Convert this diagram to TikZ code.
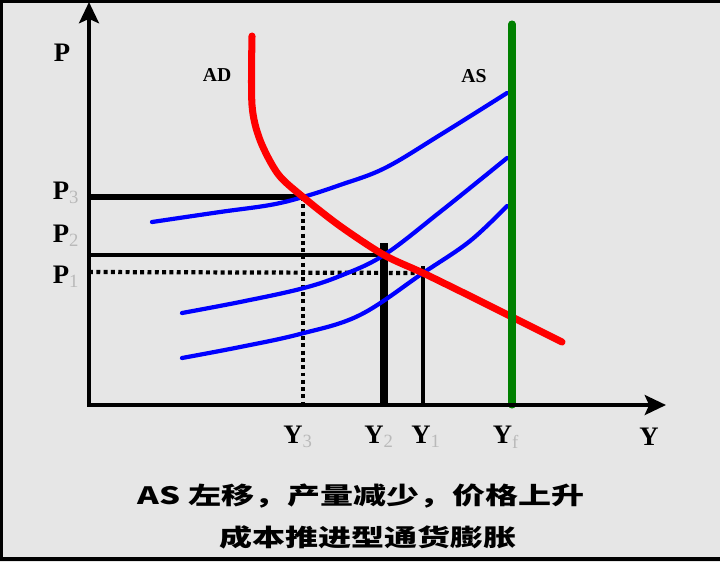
\documentclass[tikz,border=0pt]{standalone}
\usepackage{fontspec}
\setmainfont{Liberation Serif}
\newfontfamily\cjk{Noto Sans CJK SC}
\usepackage{tikz}
\usetikzlibrary{arrows.meta}
\definecolor{bggray}{RGB}{230,230,230}
\definecolor{lrasgreen}{RGB}{0,128,0}
\tikzstyle{axis} = [line width=3.2pt,{Stealth[length=15pt,width=14pt,inset=3pt]}-{Stealth[length=15pt,width=14pt,inset=3pt]}]
\tikzstyle{adcurve} = [line width=5pt,red,line cap=round]
\tikzstyle{ascurve} = [line width=3pt,blue,line cap=round]
\tikzstyle{lrascurve} = [line width=5pt,lrasgreen,line cap=round]
\tikzstyle{guide} = [line width=3pt,dash pattern=on 2.8pt off 2.4pt]
\tikzstyle{lab} = [font=\fontsize{19}{20}\selectfont\bfseries]
\tikzstyle{curvelab} = [font=\fontsize{14}{16}\selectfont\bfseries]
\tikzstyle{caption} = [font=\cjk\bfseries\fontsize{17}{20}\selectfont,xscale=1.38]
\newcommand{\gsub}[1]{\textsubscript{\textcolor{gray!55}{\mdseries #1}}}
\begin{document}
\begin{tikzpicture}[x=0.025cm,y=-0.025cm]
\useasboundingbox (0,0) rectangle (720,562);
\fill[bggray] (0,0) rectangle (720,562);
\draw[line width=2.5pt] (720,1.5) -- (1.5,1.5) -- (1.5,559) -- (720,559);

\coordinate (O) at (89,405);
\coordinate (ytop) at (89,2);
\coordinate (xend) at (666,405);
\coordinate (p3) at (89,197);
\coordinate (p2) at (89,255);
\coordinate (p1) at (89,272);
\coordinate (y3) at (303,405);
\coordinate (y2) at (384,405);
\coordinate (y1) at (423,405);
\coordinate (E3) at (303,197);
\coordinate (E2) at (384,255);
\coordinate (E1) at (423,273);
\coordinate (E2top) at (384,243);
\coordinate (E1top) at (423,266);
\coordinate (yftop) at (512,24);
\coordinate (yf) at (512,405);

% price and output levels
\draw [line width=4pt] (p3) -- (E3);
\draw [guide] (E3) -- (y3);
\draw [line width=2.6pt] (p2) -- (E2);
\draw [line width=5pt] (y2) -- (E2top);
\draw [guide] (p1) -- (E1);
\draw [line width=3.4pt] (y1) -- (E1top);

% AS curves
\draw [ascurve] plot[smooth,tension=0.6] coordinates {(152,222) (220,212) (270,205) (E3) (340,185) (385,168) (440,135) (507,93)};
\draw [ascurve] plot[smooth,tension=0.6] coordinates {(182,313) (240,302) (300,289) (340,276) (E2) (440,212) (507,158)};
\draw [ascurve] plot[smooth,tension=0.6] coordinates {(182,358) (240,347) (300,334) (360,315) (E1) (470,241) (507,206)};

% AD curve
\draw [adcurve] plot[smooth,tension=0.5] coordinates {(252,36) (252,105) (260,140) (278,174) (E3) (340,226) (E2) (E1) (470,296) (510,316) (562,342)};

% long-run AS
\draw [lrascurve] (yf) -- (yftop);

% axes
\draw [axis] (ytop) -- (O) -- (xend);

\node (P) [lab] at (62,53) {P};
\node (P3) [lab] at (66,193) {P\gsub{3}};
\node (P2) [lab] at (66,236) {P\gsub{2}};
\node (P1) [lab] at (66,277) {P\gsub{1}};
\node (Y3) [lab] at (298,437) {Y\gsub{3}};
\node (Y2) [lab] at (379,437) {Y\gsub{2}};
\node (Y1) [lab] at (426,437) {Y\gsub{1}};
\node (Yf) [lab] at (506,437) {Y\gsub{f}};
\node (Y) [lab] at (649,437) {Y};
\node (AD) [curvelab] at (217,75) {AD};
\node (AS) [curvelab] at (474,76) {AS};

\node (cap1) [caption] at (361,496) {AS 左移，产量减少，价格上升};
\node (cap2) [caption] at (368,537) {成本推进型通货膨胀};
\end{tikzpicture}
\end{document}
